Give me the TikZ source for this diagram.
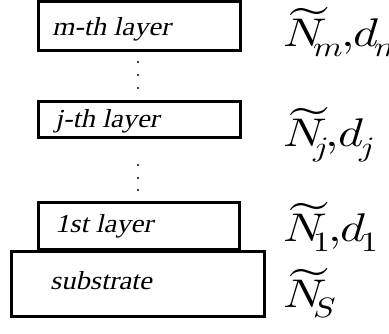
\documentclass[tikz,border=0pt]{standalone}
\usepackage{fontspec}
\usepackage{unicode-math}
\setmainfont{Liberation Serif}
\setmathfont{Latin Modern Math}
\newfontfamily\slantserif{Liberation Serif}[FakeSlant=0.2]
\newcommand{\wstretch}[1]{\scalebox{1.2}[1]{#1}}
\newcommand{\tstretch}[1]{\scalebox{1.1}[1]{#1}}
\newcommand{\layerlab}[1]{$\widetilde{N}_{\kern-7pt #1}\kern-2pt{,}\kern-1pt d_{\kern-3pt #1}$}
\begin{document}
\begin{tikzpicture}[x=1pt,y=1pt,
  layerbox/.style={draw=black, line width=3pt, rectangle, inner sep=0pt},
  layertext/.style={anchor=base west, inner sep=0pt, font=\fontsize{26}{30}\selectfont\slantserif},
  mathlabel/.style={anchor=base west, inner sep=0pt, font=\fontsize{40}{44}\selectfont},
  dotmark/.style={circle, fill=black, inner sep=0pt, minimum size=2.4pt}]
\useasboundingbox (0,0) rectangle (389,334);
% boxes
\node[layerbox, minimum width=202pt, minimum height=49pt] (m) at (139.5,308) {};
\node[layerbox, minimum width=202pt, minimum height=36pt] (j) at (139.5,214.5) {};
\node[layerbox, minimum width=201pt, minimum height=47pt] (one) at (139,108) {};
\node[layerbox, minimum width=253pt, minimum height=65pt] (sub) at (138,50) {};
% texts
\node[layertext] (tm) at (52,298) {\tstretch{m-th layer}};
\node[layertext] (tj) at (55,206) {\tstretch{j-th layer}};
\node[layertext] (t1) at (55,101) {\tstretch{1st layer}};
\node[layertext] (ts) at (50,44) {\tstretch{substrate}};
% dots
\node[dotmark] (d1) at (138,272) {};
\node[dotmark] (d2) at (138,259) {};
\node[dotmark] (d3) at (138,246) {};
\node[dotmark] (d4) at (138,169) {};
\node[dotmark] (d5) at (138,156) {};
\node[dotmark] (d6) at (138,144) {};
% labels
\node[mathlabel] (lm) at (283,287) {\wstretch{\layerlab{m}}};
\node[mathlabel] (lj) at (283,187) {\wstretch{\layerlab{j}}};
\node[mathlabel] (l1) at (283,92) {\wstretch{\layerlab{1}}};
\node[mathlabel] (ls) at (283,26) {\wstretch{$\widetilde{N}_{\kern-7pt S}$}};
\end{tikzpicture}
\end{document}
